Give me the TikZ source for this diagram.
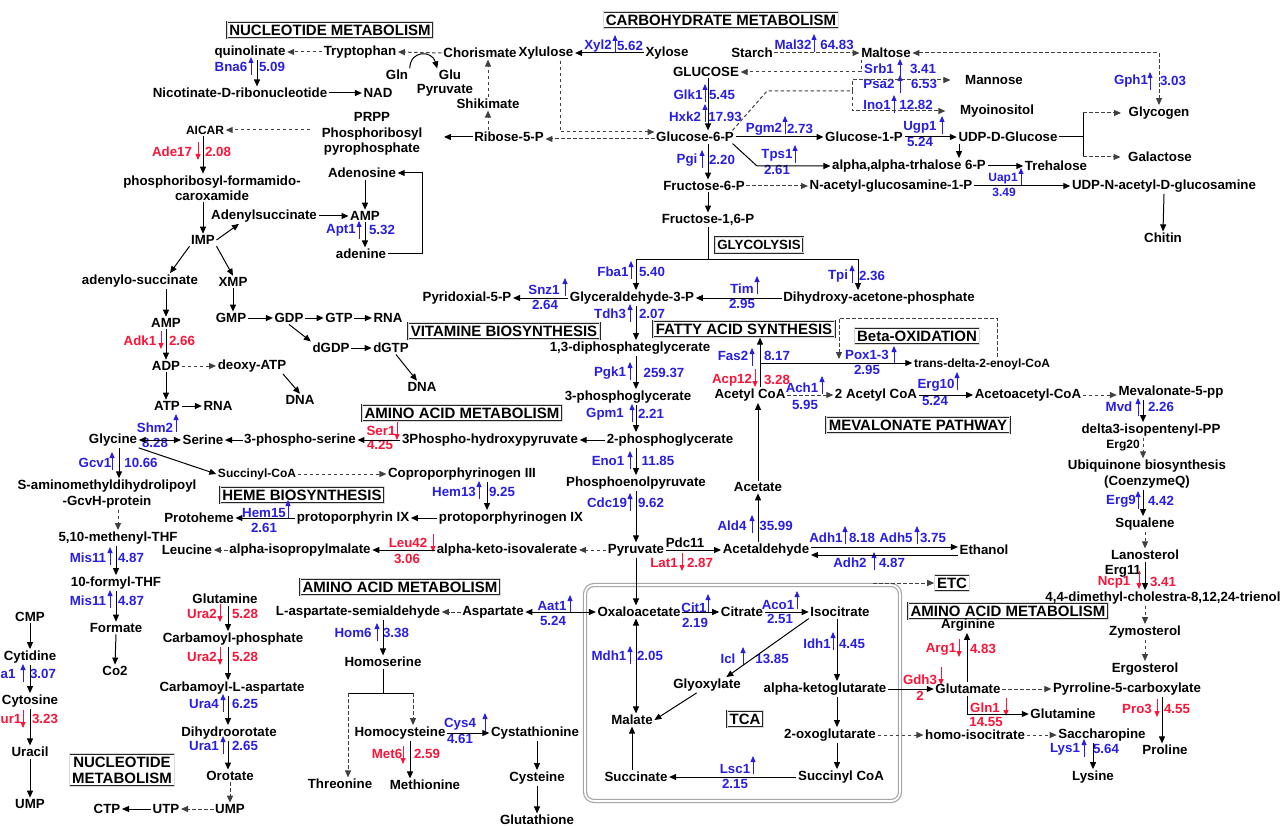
\documentclass[tikz,border=0pt]{standalone}
\usepackage{fontspec}
\setmainfont{Liberation Sans}
\usetikzlibrary{arrows.meta,calc}

\definecolor{enzblue}{RGB}{40,30,225}
\definecolor{enzred}{RGB}{250,20,55}

\newcommand{\metf}{\fontsize{13.3}{15.5}\selectfont\bfseries}
\newcommand{\smf}{\fontsize{12}{14}\selectfont\bfseries}
\newcommand{\ttlf}{\fontsize{15}{16}\selectfont\bfseries}

% enzyme with up (blue) or down (red) mark: name, label, label pos, arrow x, arrow y, value, value pos
\newcommand{\enzup}[7]{\node[enzb] (#1) at (#3) {#2}; \node[enzb] (#1v) at (#7) {#6}; \draw[upi] (#4,#5+8) -- (#4,#5-10);}
\newcommand{\enzdn}[7]{\node[enzr] (#1) at (#3) {#2}; \node[enzr] (#1v) at (#7) {#6}; \draw[dni] (#4,#5-10) -- (#4,#5+8);}

\tikzset{
  met/.style={font=\metf, inner sep=1.5pt, align=center},
  sm/.style={font=\smf, inner sep=1.5pt},
  enzb/.style={font=\metf, text=enzblue, inner sep=0.5pt},
  enzr/.style={font=\metf, text=enzred, inner sep=0.5pt},
  ttl/.style={font=\ttlf, draw=black!85, double=black!15, double distance=0.5pt, line width=0.6pt, inner xsep=2.5pt, inner ysep=3pt, align=center},
  rx/.style={line width=1pt, -{Triangle[length=7pt,width=6pt]}},
  drx/.style={rx, black!75, dash pattern=on 3.5pt off 2.5pt},
  brx/.style={line width=1pt, {Triangle[length=7pt,width=6pt]}-{Triangle[length=7pt,width=6pt]}},
  dbrx/.style={brx, black!75, dash pattern=on 3.5pt off 2.5pt},
  ln/.style={line width=1pt},
  upi/.style={enzblue, line width=0.8pt, -{Triangle[length=6pt,width=5pt]}},
  dni/.style={enzred, line width=0.8pt, -{Triangle[length=6pt,width=5pt]}},
}

\begin{document}
\begin{tikzpicture}[x=1pt,y=-1pt]
\useasboundingbox (0,0) rectangle (1284,826);

% titles
\node[ttl] (tnuc) at (330,30) {NUCLEOTIDE METABOLISM};
\node[ttl] (tcarb) at (721,20) {CARBOHYDRATE METABOLISM};
\node[ttl, font=\metf] (tglyc) at (759,245) {GLYCOLYSIS};
\node[ttl] (tvit) at (504,331) {VITAMINE BIOSYNTHESIS};
\node[ttl] (tfas) at (744,329) {FATTY ACID SYNTHESIS};
\node[ttl] (tbeta) at (917,336) {Beta-OXIDATION};
\node[ttl] (taa1) at (462,413) {AMINO ACID METABOLISM};
\node[ttl] (tmev) at (918,425) {MEVALONATE PATHWAY};
\node[ttl] (theme) at (302,495) {HEME BIOSYNTHESIS};
\node[ttl] (taa2) at (400,587) {AMINO ACID METABOLISM};
\node[ttl] (tetc) at (952,583) {ETC};
\node[ttl] (taa3) at (1008,611) {AMINO ACID METABOLISM};
\node[ttl] (ttca) at (745,719) {TCA};
\node[ttl] (tnuc2) at (122,770) {NUCLEOTIDE\\METABOLISM};
\draw[gray!70, line width=1.2pt, double=white, double distance=1.8pt, rounded corners=9pt] (585,585) rectangle (900,801);

% nucleotide, top left
\node[met] (quin) at (250,52) {quinolinate};
\node[met] (trp) at (360,52) {Tryptophan};
\node[met] (chor) at (480,53) {Chorismate};
\node[met] (xylu) at (546,53) {Xylulose};
\node[met] (xylo) at (667,53) {Xylose};
\node[met] (gln0) at (397,75) {Gln};
\node[met] (glu0) at (450,75) {Glu};
\node[met] (pyr0) at (445,90) {Pyruvate};
\node[met] (nicot) at (240,93) {Nicotinate-D-ribonucleotide};
\node[met] (nad) at (378,93) {NAD};
\node[met] (shik) at (488,104) {Shikimate};
\node[met] (prpp) at (372,134) {PRPP\\Phosphoribosyl\\pyrophosphate};
\node[met] (rib) at (509,137) {Ribose-5-P};
\node[sm] (aicar) at (205,130) {AICAR};
\node[met] (prfc) at (212,188) {phosphoribosyl-formamido-\\caroxamide};
\node[met] (adsu) at (264,216) {Adenylsuccinate};
\node[met] (imp) at (203,240) {IMP};
\node[met] (adeno) at (362,173) {Adenosine};
\node[met] (amp1) at (365,216) {AMP};
\node[met] (adenine) at (361,254) {adenine};
\node[met] (adsu2) at (140,281) {adenylo-succinate};
\node[met] (xmp) at (233,282) {XMP};
\node[met] (gmp) at (231,318) {GMP};
\node[met] (gdp) at (289,318) {GDP};
\node[met] (gtp) at (339,318) {GTP};
\node[met] (rna1) at (388,318) {RNA};
\node[met] (dgdp) at (331,348) {dGDP};
\node[met] (dgtp) at (391,348) {dGTP};
\node[met] (dna1) at (422,387) {DNA};
\node[met] (amp2) at (166,323) {AMP};
\node[met] (adp) at (166,366) {ADP};
\node[met] (datp) at (252,366) {deoxy-ATP};
\node[met] (dna2) at (300,400) {DNA};
\node[met] (atp) at (167,406) {ATP};
\node[met] (rna2) at (218,406) {RNA};

% carbohydrate
\node[met] (starch) at (752,53) {Starch};
\node[met] (maltose) at (886,53) {Maltose};
\node[met] (glucose) at (706,72) {GLUCOSE};
\node[met] (mannose) at (994,80) {Mannose};
\node[met] (myo) at (997,111) {Myoinositol};
\node[met] (g6p) at (695,137) {Glucose-6-P};
\node[met] (g1p) at (864,137) {Glucose-1-P};
\node[met] (udpg) at (1008,137) {UDP-D-Glucose};
\node[met] (glycogen) at (1159,113) {Glycogen};
\node[met] (galact) at (1160,157) {Galactose};
\node[met] (trehp) at (909,166) {alpha,alpha-trhalose 6-P};
\node[met] (treh) at (1056,166) {Trehalose};
\node[met] (f6p) at (704,186) {Fructose-6-P};
\node[met] (nag) at (891,186) {N-acetyl-glucosamine-1-P};
\node[met] (udpn) at (1164,186) {UDP-N-acetyl-D-glucosamine};
\node[met] (chitin) at (1163,238) {Chitin};
\node[met] (f16p) at (708,220) {Fructose-1,6-P};

% glycolysis and around
\node[met] (gap) at (632,298) {Glyceraldehyde-3-P};
\node[met] (pyr5p) at (467,298) {Pyridoxial-5-P};
\node[met] (dhap) at (879,298) {Dihydroxy-acetone-phosphate};
\node[met] (bpg) at (630,348) {1,3-diphosphateglycerate};
\node[met] (pg3) at (628,397) {3-phosphoglycerate};
\node[met] (pg2) at (670,440) {2-phosphoglycerate};
\node[met] (pep) at (636,483) {Phosphoenolpyruvate};
\node[met] (pyr) at (636,550) {Pyruvate};
\node[met] (acoa) at (750,395) {Acetyl CoA};
\node[met] (acoa2) at (876,395) {2 Acetyl CoA};
\node[sm] (tdec) at (982,364) {trans-delta-2-enoyl-CoA};
\node[met] (aacoa) at (1028,395) {Acetoacetyl-CoA};
\node[met] (mev) at (1171,392) {Mevalonate-5-pp};
\node[met] (ipp) at (1151,430) {delta3-isopentenyl-PP};
\node[sm] (erg20) at (1123,446) {Erg20};
\node[met] (ubi) at (1147,474) {Ubiquinone biosynthesis\\(CoenzymeQ)};
\node[met] (squal) at (1145,524) {Squalene};
\node[met] (lano) at (1145,555) {Lanosterol};
\node[met, inner sep=0pt] (erg11) at (1123,571) {Erg11};
\node[met] (dmc) at (1163,598) {4,4-dimethyl-cholestra-8,12,24-trienol};
\node[met] (zymo) at (1145,632) {Zymosterol};
\node[met] (ergo) at (1145,669) {Ergosterol};
\node[met] (acet) at (758,487) {Acetate};
\node[met] (acald) at (766,550) {Acetaldehyde};
\node[met] (pdc11) at (685,543) {Pdc11};
\node[met] (ethanol) at (984,550) {Ethanol};

% amino acids, heme
\node[met] (gly) at (113,440) {Glycine};
\node[met] (ser) at (203,440) {Serine};
\node[met] (pser) at (300,440) {3-phospho-serine};
\node[met] (php) at (490,440) {3Phospho-hydroxypyruvate};
\node[met] (gcvh) at (107,494) {S-aminomethyldihydrolipoyl\\-GcvH-protein};
\node[sm] (succoa) at (257,474) {Succinyl-CoA};
\node[met] (copro) at (462,474) {Coproporphyrinogen III};
\node[met] (protogen) at (511,518) {protoporphyrinogen IX};
\node[met] (protoIX) at (353,518) {protoporphyrin IX};
\node[met] (protoheme) at (199,518) {Protoheme};
\node[met] (mthf) at (118,538) {5,10-methenyl-THF};
\node[met] (fthf) at (116,583) {10-formyl-THF};
\node[met] (formate) at (116,628) {Formate};
\node[met] (co2) at (115,671) {Co2};
\node[met] (leu) at (187,550) {Leucine};
\node[met] (aipm) at (300,550) {alpha-isopropylmalate};
\node[met] (akiv) at (507,550) {alpha-keto-isovalerate};

% lower part, TCA
\node[met] (oaa) at (639,612) {Oxaloacetate};
\node[met] (asp) at (493,612) {Aspartate};
\node[met] (lasa) at (358,612) {L-aspartate-semialdehyde};
\node[met] (hser) at (383,662) {Homoserine};
\node[met] (thr) at (340,784) {Threonine};
\node[met] (hcys) at (400,733) {Homocysteine};
\node[met] (cysta) at (535,733) {Cystathionine};
\node[met] (meth) at (425,785) {Methionine};
\node[met] (cys) at (537,778) {Cysteine};
\node[met] (gsh) at (537,820) {Glutathione};
\node[met] (cit) at (742,612) {Citrate};
\node[met] (icit) at (840,612) {Isocitrate};
\node[met] (glyox) at (707,685) {Glyoxylate};
\node[met] (mal) at (632,720) {Malate};
\node[met] (succ) at (636,777) {Succinate};
\node[met] (akg) at (825,689) {alpha-ketoglutarate};
\node[met] (oxog) at (830,735) {2-oxoglutarate};
\node[met] (succoa2) at (841,777) {Succinyl CoA};
\node[met] (glut) at (968,689) {Glutamate};
\node[met] (arg) at (968,625) {Arginine};
\node[met] (glnR) at (1063,714) {Glutamine};
\node[met] (p5c) at (1127,689) {Pyrroline-5-carboxylate};
\node[met] (pro) at (1165,750) {Proline};
\node[met] (hicit) at (975,735) {homo-isocitrate};
\node[met] (sacch) at (1102,735) {Saccharopine};
\node[met] (lys) at (1093,777) {Lysine};

% nucleotide, bottom left
\node[met] (cmp) at (30,617) {CMP};
\node[met] (cytd) at (30,657) {Cytidine};
\node[met] (cyts) at (30,701) {Cytosine};
\node[met] (ura) at (30,752) {Uracil};
\node[met] (ump1) at (30,804) {UMP};
\node[met] (glnL) at (225,599) {Glutamine};
\node[met] (cp) at (233,639) {Carbamoyl-phosphate};
\node[met] (cla) at (232,688) {Carbamoyl-L-aspartate};
\node[met] (dho) at (229,733) {Dihydroorotate};
\node[met] (oro) at (230,776) {Orotate};
\node[met] (ump2) at (230,809) {UMP};
\node[met] (utp) at (166,809) {UTP};
\node[met] (ctp) at (107,809) {CTP};

% enzymes
\enzup{bna6}{Bna6}{231,67}{251}{67}{5.09}{272,67}
\enzup{xyl2}{Xyl2}{598,46}{615}{45}{5.62}{630,46}
\enzup{mal32}{Mal32}{793,45}{814}{44}{64.83}{837,45}
\enzup{srb1}{Srb1}{879,69}{900}{69}{3.41}{923,69}
\enzup{psa2}{Psa2}{879,84}{900}{85}{6.53}{924,84}
\enzup{ino1}{Ino1}{877,105}{894}{105}{12.82}{916,105}
\enzup{glk1}{Glk1}{688,95}{705}{94}{5.45}{722,95}
\enzup{hxk2}{Hxk2}{685,117}{705}{114}{17.93}{725,117}
\enzup{pgm2}{Pgm2}{764,129}{785}{126}{2.73}{800,129}
\enzup{ugp1}{Ugp1}{920,127}{942}{126}{5.24}{920,142}
\enzup{pgi}{Pgi}{687,160}{702}{160}{2.20}{722,160}
\enzup{tps1}{Tps1}{777,155}{795}{155}{2.61}{777,170}
\enzup{gph1}{Gph1}{1131,81}{1150}{82}{3.03}{1173,81}
\node[enzb, font=\smf] (uap1) at (1003,179) {Uap1};
\node[enzb, font=\smf] (uap1v) at (1004,192) {3.49};
\draw[upi] (1021,186) -- (1021,168);
\enzup{apt1}{Apt1}{341,230}{359}{231}{5.32}{382,230}
\enzup{snz1}{Snz1}{544,290}{565}{288}{2.64}{545,305}
\enzup{fba1}{Fba1}{613,272}{631}{271}{5.40}{652,272}
\enzup{tdh3}{Tdh3}{610,314}{630}{314}{2.07}{652,314}
\enzup{pgk1}{Pgk1}{610,373}{630}{372}{259.37}{664,373}
\enzup{gpm1}{Gpm1}{605,414}{632}{414}{2.21}{651,414}
\enzup{eno1}{Eno1}{608,461}{630}{461}{11.85}{658,461}
\enzup{cdc19}{Cdc19}{607,503}{630}{503}{9.62}{651,503}
\enzup{tim}{Tim}{742,289}{757}{286}{2.95}{742,304}
\enzup{tpi}{Tpi}{838,276}{852}{275}{2.36}{872,276}
\enzup{fas2}{Fas2}{733,356}{752}{358}{8.17}{777,356}
\enzup{pox13}{Pox1-3}{867,355}{894}{356}{2.95}{867,370}
\enzup{ach1}{Ach1}{802,388}{822}{386}{5.95}{805,405}
\enzup{erg10}{Erg10}{936,385}{957}{382}{5.24}{935,401}
\enzup{mvd}{Mvd}{1119,407}{1138}{408}{2.26}{1161,407}
\enzup{erg9}{Erg9}{1121,501}{1138}{501}{4.42}{1161,501}
\enzup{shm2}{Shm2}{155,428}{176}{424}{8.28}{155,443}
\enzup{gcv1}{Gcv1}{95,463}{112}{462}{10.66}{141,463}
\enzup{hem13}{Hem13}{454,492}{479}{491}{9.25}{502,492}
\enzup{hem15}{Hem15}{264,513}{288}{510}{2.61}{264,528}
\enzup{mis11a}{Mis11}{88,558}{110}{557}{4.87}{131,558}
\enzup{mis11b}{Mis11}{88,601}{110}{600}{4.87}{131,601}
\enzup{ald4}{Ald4}{732,526}{752}{525}{35.99}{776,526}
\enzup{adh1}{Adh1}{826,538}{845}{536}{8.18}{862,538}
\enzup{adh5}{Adh5}{896,538}{917}{536}{3.75}{933,538}
\enzup{adh2}{Adh2}{850,563}{874}{562}{4.87}{892,563}
\enzup{aat1}{Aat1}{552,606}{570}{605}{5.24}{553,621}
\enzup{hom6}{Hom6}{353,633}{377}{633}{3.38}{396,633}
\enzup{cys4}{Cys4}{460,724}{485}{723}{4.61}{460,739}
\enzup{mdh1}{Mdh1}{609,656}{630}{656}{2.05}{650,656}
\enzup{cit1}{Cit1}{694,608}{708}{604}{2.19}{695,623}
\enzup{aco1}{Aco1}{778,605}{797}{601}{2.51}{780,619}
\enzup{idh1}{Idh1}{817,644}{833}{642}{4.45}{852,644}
\enzup{icl}{Icl}{728,659}{743}{657}{13.85}{772,659}
\enzup{lsc1}{Lsc1}{735,769}{753}{766}{2.15}{735,784}
\enzup{lys1}{Lys1}{1065,749}{1084}{749}{5.64}{1106,749}
\enzup{ura4}{Ura4}{204,704}{223}{704}{6.25}{245,704}
\enzup{ura1}{Ura1}{204,746}{223}{746}{2.65}{245,746}
\node[enzb, anchor=west] (cyta1) at (0,674) {a1};
\node[enzb] (cyta1v) at (43,674) {3.07};
\draw[upi] (23,682) -- (23,664);
\enzdn{ade17}{Ade17}{172,152}{198}{152}{2.08}{218,152}
\enzdn{adk1}{Adk1}{140,341}{161}{341}{2.66}{182,341}
\enzdn{ser1}{Ser1}{381,431}{397}{432}{4.25}{380,445}
\enzdn{acp12}{Acp12}{732,380}{755}{379}{3.28}{777,380}
\enzdn{leu42}{Leu42}{408,543}{433}{544}{3.06}{407,559}
\enzdn{lat1}{Lat1}{664,563}{682}{563}{2.87}{700,563}
\enzdn{met6}{Met6}{387,754}{403}{756}{2.59}{427,754}
\enzdn{ncp1}{Ncp1}{1114,582}{1139}{581}{3.41}{1163,582}
\enzdn{gdh3}{Gdh3}{920,680}{941}{677}{2}{920,696}
\enzdn{arg1}{Arg1}{941,649}{959}{649}{4.83}{983,649}
\enzdn{gln1}{Gln1}{985,708}{1006}{708}{14.55}{986,722}
\enzdn{pro3}{Pro3}{1137,709}{1157}{709}{4.55}{1177,709}
\enzdn{ura2a}{Ura2}{202,614}{220}{614}{5.28}{245,614}
\enzdn{ura2b}{Ura2}{202,657}{220}{657}{5.28}{245,657}
\node[enzr, anchor=west] (fur1) at (0,719) {ur1};
\node[enzr] (fur1v) at (45,719) {3.23};
\draw[dni] (23,710) -- (23,728);

% connectors, nucleotide top
\draw[drx] (trp.west) -- (quin.east);
\draw[drx] (chor.west) -- (trp.east);
\draw[rx] (gln0.north east) .. controls (410,50) and (432,50) .. (glu0.north west);
\draw[rx] (nicot.east) -- (nad.west);
\draw[rx] ([xshift=7pt]quin.south) -- ([xshift=7pt]quin.south |- nicot.north);
\draw[drx] (shik.south |- rib.north) -- (shik.south);
\draw[drx] (shik.north) -- (shik.north |- chor.south);
\draw[rx] (xylo.west) -- (xylu.east);
\draw[drx] ([xshift=14pt]xylu.south) |- ($(g6p.west)+(0,-5)$);
\draw[drx] ($(g6p.west)+(0,2)$) -- ($(rib.east)+(0,2)$);
\draw[rx] (rib.west) -- ([xshift=20pt]prpp.east |- rib.west);
\draw[drx] ([xshift=-10pt]prpp.west |- aicar.east) -- (aicar.east);
\draw[rx] ([xshift=-2pt]aicar.south) -- ([xshift=-2pt]aicar.south |- prfc.north);
\draw[rx] (imp.north |- prfc.south) -- (imp.north);
\draw[rx] (imp.east) -- ([xshift=-25pt]adsu.south);
\draw[rx] (adsu.east) -- (amp1.west);
\draw[rx] (amp1.north |- adeno.south) -- (amp1.north);
\draw[rx] (amp1.south) -- (amp1.south |- adenine.north);
\draw[rx] (adenine.east) -| ([xshift=25pt]adeno.east) -- (adeno.east);
\draw[rx] (imp.south west) -- ([xshift=30pt]adsu2.north);
\draw[rx] (imp.south east) -- (xmp.north);
\draw[rx] (xmp.south) -- (xmp.south |- gmp.north);
\draw[rx] (gmp.east) -- (gdp.west);
\draw[rx] (gdp.east) -- (gtp.west);
\draw[rx] (gtp.east) -- (rna1.west);
\draw[rx] (gdp.south) -- (dgdp.north west);
\draw[rx] (dgdp.east) -- (dgtp.west);
\draw[rx] ([xshift=5pt]dgtp.south) -- ([xshift=-5pt]dna1.north);
\draw[rx] (amp2.north |- adsu2.south) -- (amp2.north);
\draw[rx] (amp2.south) -- (adp.north);
\draw[drx] (adp.east) -- (datp.west);
\draw[rx] (adp.south) -- (adp.south |- atp.north);
\draw[rx] (atp.east) -- (rna2.west);
\draw[rx] ([xshift=-5pt]datp.south east) -- (dna2.north);

% connectors, carbohydrate
\draw[drx] (starch.east) -- (maltose.west);
\draw[dbrx] (maltose.east) -| (glycogen.north);
\draw[drx] ([xshift=-25pt]maltose.south) |- (glucose.east);
\coordinate (mk1) at (767,91);
\coordinate (mk2) at (852,91);
\draw[drx, -] ([xshift=-3pt]g6p.north east) -- (mk1) -- (mk2);
\draw[drx] (mk2) |- ([xshift=-13pt]mannose.west);
\draw[drx] (mk2) |- ([xshift=-13pt]myo.west);
\draw[rx] ([xshift=2pt]glucose.south) -- ([xshift=2pt]glucose.south |- g6p.north);
\draw[rx] (g6p.east) -- (g1p.west);
\draw[rx] (g1p.east) -- (udpg.west);
\draw[rx] ([xshift=-49pt]udpg.south) -- ([xshift=-49pt]udpg.south |- trehp.north);
\coordinate (ubr) at (1083,137);
\draw[ln] (udpg.east) -- (ubr);
\draw[ln] (ubr |- glycogen.west) -- (ubr |- galact.west);
\draw[drx] (ubr |- glycogen.west) -- ([xshift=-6pt]glycogen.west);
\draw[drx] (ubr |- galact.west) -- ([xshift=-6pt]galact.west);
\coordinate (tk) at (757,166);
\draw[rx] ([xshift=-3pt]g6p.south east) -- (tk) -- (trehp.west);
\draw[rx] (trehp.east) -- (treh.west);
\draw[rx] ([xshift=13pt]g6p.south) -- ([xshift=13pt]g6p.south |- f6p.north);
\draw[drx] (f6p.east) -- (nag.west);
\draw[rx] (nag.east) -- (udpn.west);
\draw[rx] (udpn.south) -- (chitin.north);
\draw[rx] (f16p.north |- f6p.south) -- (f16p.north);
\coordinate (gbr) at (708,260);
\draw[ln] (f16p.south) -- (gbr);
\draw[rx] (gbr) -| ([xshift=4pt]gap.north);
\draw[rx] (gbr) -| ([xshift=-21pt]dhap.north);

% connectors, glycolysis
\draw[rx] (gap.west) -- (pyr5p.east);
\draw[rx] (dhap.west) -- (gap.east);
\draw[rx] ([xshift=4pt]gap.south) -- ([xshift=4pt]gap.south |- bpg.north);
\draw[rx] (pyr.north |- bpg.south) -- (pyr.north |- pg3.north);
\draw[rx] (pyr.north |- pg3.south) -- (pyr.north |- pg2.north);
\draw[rx] (pyr.north |- pg2.south) -- (pyr.north |- pep.north);
\draw[rx] (pyr.north |- pep.south) -- (pyr.north);
\draw[rx] (pg2.west) -- (php.east);
\draw[rx] (php.west) -- (pser.east);
\draw[rx] (pser.west) -- (ser.east);
\draw[brx] (gly.east) -- (ser.west);
\draw[rx] ([xshift=6pt]gly.south) -- ([xshift=6pt]gly.south |- gcvh.north);
\draw[rx] (gly.south east) -- (succoa.west);
\draw[drx] (succoa.east) -- (copro.west);
\draw[rx] ([xshift=25pt]copro.south) -- ([xshift=25pt]copro.south |- protogen.north);
\draw[rx] (protogen.west) -- (protoIX.east);
\draw[rx] (protoIX.west) -- (protoheme.east);
\draw[drx] (mthf.north |- gcvh.south) -- (mthf.north);
\draw[rx] (fthf.north |- mthf.south) -- (fthf.north);
\draw[rx] (fthf.south) -- (formate.north);
\draw[rx] (formate.south) -- (co2.north);
\draw[drx] (pyr.west) -- (akiv.east);
\draw[rx] (akiv.west) -- (aipm.east);
\draw[drx] (aipm.west) -- (leu.east);
\draw[rx] (pyr.east) -- (acald.west);
\draw[rx] (pyr.south) -- (pyr.south |- oaa.north);
\draw[rx] (acet.south |- acald.north) -- (acet.south);
\draw[rx] (acet.north) -- (acet.north |- acoa.south);
\draw[rx] ([xshift=10pt]acoa.north) -- ([xshift=10pt]acoa.north |- tfas.south);
\coordinate (fk) at (760,363);
\draw[rx] (fk) -- (fk -| tdec.west);
\coordinate (bo1) at (997,318);
\coordinate (bo2) at (839,359);
\draw[drx] ([xshift=15pt]tdec.north) -- (bo1) -| (bo2);
\draw[drx] (acoa.east) -- (acoa2.west);
\draw[rx] (acoa2.east) -- (aacoa.west);
\draw[drx] (aacoa.east) -- (aacoa.east -| mev.west);
\draw[rx] ([xshift=-8pt]ipp.north |- mev.south) -- ([xshift=-8pt]ipp.north);
\draw[drx] ([xshift=-8pt]ipp.south) -- ([xshift=-8pt]ipp.south |- ubi.north);
\draw[rx] ([xshift=-4pt]ubi.south) -- ([xshift=-4pt]ubi.south |- squal.north);
\draw[drx] (squal.south) -- (lano.north);
\draw[rx] (lano.south) -- (lano.south |- dmc.north);
\draw[drx] (zymo.north |- dmc.south) -- (zymo.north);
\draw[drx] (zymo.south) -- (ergo.north);
\draw[rx] ($(acald.east)+(0,-3)$) -- ($(ethanol.west)+(0,-3)$);
\draw[rx] ($(ethanol.west)+(0,5)$) -- ($(acald.east)+(0,5)$);
\coordinate (etcs) at (873,583);
\draw[drx] (etcs) -- (tetc.west);

% connectors, TCA and amino acids
\draw[brx] (asp.east) -- (oaa.west);
\draw[drx] (asp.west) -- (lasa.east);
\draw[rx] (hser.north |- lasa.south) -- (hser.north);
\coordinate (hbr) at (383,693);
\draw[ln] (hser.south) -- (hbr);
\draw[ln] ([xshift=8pt]thr.north |- hbr) -- ([xshift=13pt]hcys.north |- hbr);
\draw[drx] ([xshift=8pt]thr.north |- hbr) -- ([xshift=8pt]thr.north);
\draw[drx] ([xshift=13pt]hcys.north |- hbr) -- ([xshift=13pt]hcys.north);
\draw[rx] (hcys.east) -- (cysta.west);
\draw[rx] ([xshift=10pt]hcys.south) -- ([xshift=10pt]hcys.south |- meth.north);
\draw[rx] (cys.north |- cysta.south) -- (cys.north);
\draw[rx] (cys.south) -- (gsh.north);
\draw[rx] (oaa.east) -- (cit.west);
\draw[rx] (cit.east) -- (icit.west);
\draw[brx] ([xshift=-3pt]oaa.south) -- ([xshift=-3pt]oaa.south |- mal.north);
\draw[rx] (icit.south west) -- ([xshift=-16pt]glyox.north east);
\draw[rx] ([xshift=25pt]glyox.south west) -- (mal.east);
\draw[rx] ([xshift=-3pt]icit.south) -- ([xshift=-3pt]icit.south |- akg.north);
\draw[rx] ([xshift=-3pt]icit.south |- akg.south) -- ([xshift=-3pt]icit.south |- oxog.north);
\draw[rx] ([xshift=-3pt]icit.south |- oxog.south) -- ([xshift=-3pt]icit.south |- succoa2.north);
\draw[rx] (succoa2.west) -- (succ.east);
\draw[rx] (mal.south |- succ.north) -- (mal.south);
\draw[rx] (akg.east) -- (glut.west);
\draw[rx] ([xshift=-1pt]arg.south |- glut.north) -- ([xshift=-1pt]arg.south);
\draw[rx] ([xshift=-1pt]arg.south |- glut.south) |- (glnR.west);
\draw[drx] (glut.east) -- (p5c.west);
\draw[rx] ([xshift=-3pt]pro.north |- p5c.south) -- ([xshift=-3pt]pro.north);
\draw[drx] (oxog.east) -- (hicit.west);
\draw[drx] (hicit.east) -- (sacch.west);
\draw[rx] (lys.north |- sacch.south) -- (lys.north);

% connectors, nucleotide bottom
\draw[rx] (cmp.south) -- (cytd.north);
\draw[rx] (cytd.south) -- (cyts.north);
\draw[rx] (cyts.south) -- (ura.north);
\draw[rx] (ura.south) -- (ump1.north);
\draw[rx] ([xshift=3pt]glnL.south) -- ([xshift=3pt]glnL.south |- cp.north);
\draw[rx] ([xshift=3pt]glnL.south |- cp.south) -- ([xshift=3pt]glnL.south |- cla.north);
\draw[rx] ([xshift=3pt]glnL.south |- cla.south) -- ([xshift=3pt]glnL.south |- dho.north);
\draw[rx] ([xshift=3pt]glnL.south |- dho.south) -- ([xshift=3pt]glnL.south |- oro.north);
\draw[drx] (oro.south) -- (ump2.north);
\draw[drx] (ump2.west) -- (utp.east);
\draw[rx] (utp.west) -- (ctp.east);
\end{tikzpicture}
\end{document}
